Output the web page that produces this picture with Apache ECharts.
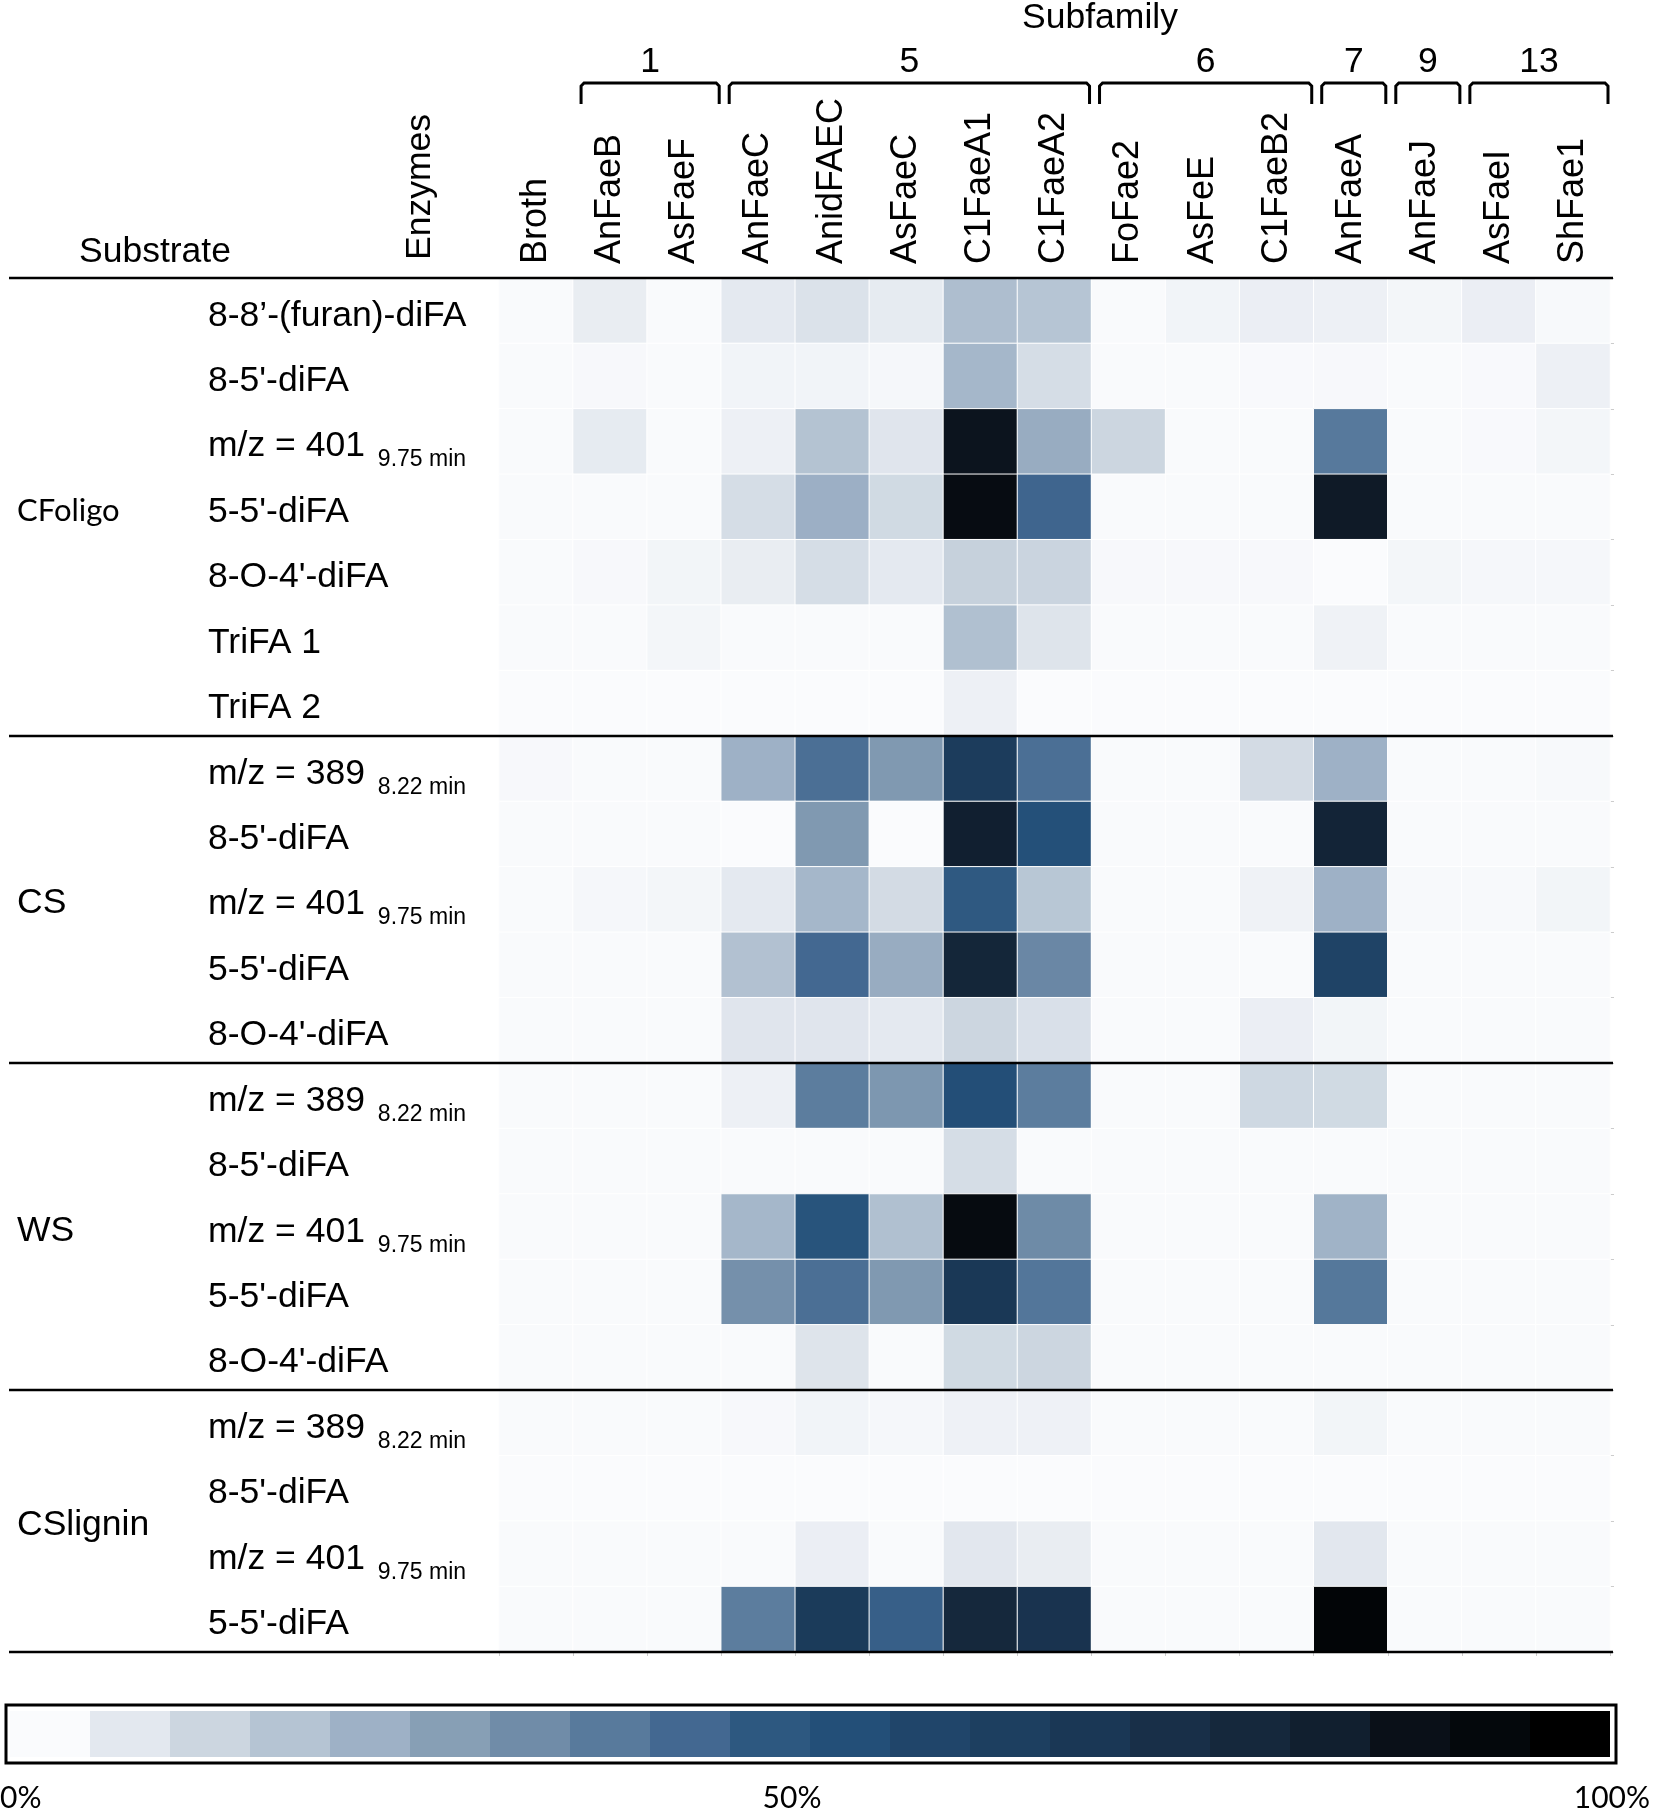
<!DOCTYPE html>
<html>
<head>
<meta charset="utf-8">
<title>Subfamily heatmap</title>
<script src="https://cdn.jsdelivr.net/npm/echarts@6/dist/echarts.min.js"></script>
<style>
  html, body { margin: 0; padding: 0; background: #fff; }
  #chart { width: 1655px; height: 1815px; }
</style>
</head>
<body>
<div id="chart"></div>
<script>
// --- Data ---
var enzymes = ['Broth', 'AnFaeB', 'AsFaeF', 'AnFaeC', 'AnidFAEC', 'AsFaeC', 'C1FaeA1', 'C1FaeA2',
  'FoFae2', 'AsFeE', 'C1FaeB2', 'AnFaeA', 'AnFaeJ', 'AsFaeI', 'ShFae1'];

var subfamilies = ['1', '5', '6', '7', '9', '13'];
var subfamilySpans = [[1, 2], [3, 7], [8, 10], [11, 11], [12, 12], [13, 14]];

var substrates = ['CFoligo', 'CS', 'WS', 'CSlignin'];
var compounds = [
  ['8-8’-(furan)-diFA', "8-5'-diFA", 'm/z = 401', "5-5'-diFA", "8-O-4'-diFA", 'TriFA 1', 'TriFA 2'],
  ['m/z = 389', "8-5'-diFA", 'm/z = 401', "5-5'-diFA", "8-O-4'-diFA"],
  ['m/z = 389', "8-5'-diFA", 'm/z = 401', "5-5'-diFA", "8-O-4'-diFA"],
  ['m/z = 389', "8-5'-diFA", 'm/z = 401', "5-5'-diFA"]
];
var retentionTimes = { 'm/z = 389': '8.22 min', 'm/z = 401': '9.75 min' };

// values in % (one row per compound, one column per enzyme)
var cfoligo = [
  [0.2, 4, 0.2, 5, 7, 4.5, 17.5, 15.5, 0.2, 2, 3.5, 3, 1.5, 3.5, 0.6],
  [0.2, 0.8, 0.2, 2, 2, 1.2, 19.5, 8.5, 0.2, 0.2, 0.5, 0.8, 0.2, 0.5, 3],
  [0.2, 4.5, 0.2, 3, 16, 6, 88, 22.5, 10.5, 0.2, 0.2, 37, 0.2, 0.5, 1.5],
  [0.2, 0.2, 0.2, 8.5, 21.5, 9.5, 92, 43, 0.2, 0.2, 0.2, 86, 0.2, 0.2, 0.2],
  [0.2, 0.8, 1.8, 4, 8.5, 5, 12, 11, 0.8, 0.8, 0.8, 0.1, 1.5, 1.2, 1.2],
  [0.2, 0.2, 1.5, 0.2, 0.2, 0.2, 17, 6.5, 0.2, 0.2, 0.2, 2.5, 0.2, 0.2, 0.2],
  [0.1, 0.1, 0.1, 0.1, 0.1, 0.1, 3, 0.1, 0.1, 0.1, 0.1, 0.1, 0.1, 0.1, 0.1]
];
var cs = [
  [0.8, 0.2, 0.2, 21, 40, 28, 65, 40, 0.2, 0.2, 9, 21, 0.2, 0.2, 0.6],
  [0.2, 0.2, 0.2, 0.1, 28, 0.1, 84, 52, 0.2, 0.2, 0.2, 81, 0.2, 0.2, 0.2],
  [0.2, 1.2, 1.5, 5, 19.5, 9, 47, 15, 0.2, 0.2, 2.5, 21, 0.6, 0.6, 1.8],
  [0.2, 0.2, 0.2, 16.5, 42, 22.5, 80, 33, 0.2, 0.2, 0.2, 60, 0.2, 0.2, 0.2],
  [0.2, 0.2, 0.2, 6, 6, 5, 10.5, 7.5, 0.2, 0.2, 3.5, 1.8, 0.2, 0.2, 0.2]
];
var ws = [
  [0.2, 0.2, 0.2, 3, 36, 28.5, 53, 36, 0.2, 0.2, 10, 9.5, 0.2, 0.2, 0.2],
  [0.2, 0.2, 0.2, 0.2, 0.2, 0.2, 8.5, 0.2, 0.2, 0.2, 0.2, 0.2, 0.2, 0.2, 0.2],
  [0.2, 0.2, 0.2, 19.5, 50, 17, 93, 32, 0.2, 0.2, 0.2, 20.5, 0.2, 0.2, 0.2],
  [0.2, 0.2, 0.2, 30.5, 40, 28, 68, 38, 0.2, 0.2, 0.2, 37.5, 0.2, 0.2, 0.2],
  [0.2, 0.2, 0.2, 0.2, 6.5, 0.2, 9.5, 10.5, 0.2, 0.2, 0.2, 0.2, 0.2, 0.2, 0.2]
];
var cslignin = [
  [0.2, 0.2, 0.2, 0.8, 2, 1.2, 2.8, 2.8, 0.2, 0.2, 0.2, 1.8, 0.2, 0.2, 0.2],
  [0.1, 0.1, 0.1, 0.1, 0.1, 0.1, 0.1, 0.1, 0.1, 0.1, 0.1, 0.1, 0.1, 0.1, 0.1],
  [0.2, 0.2, 0.2, 0.2, 3.5, 0.2, 5.5, 4, 0.2, 0.2, 0.2, 5.5, 0.2, 0.2, 0.2],
  [0.2, 0.2, 0.2, 36, 66, 45, 79, 71, 0.2, 0.2, 0.2, 97, 0.2, 0.2, 0.2]
];

var scaleLabels = ['0%', '50%', '100%'];

// 20-step colour scale, 0% -> 100%
var rampColors = ['#fafbfd', '#e3e8ef', '#ccd6e0', '#b5c4d3', '#9eb1c6', '#879fb5', '#708ca8',
  '#587a9c', '#436891', '#2d5880', '#234f78', '#20456a', '#1d3f60', '#1a3755', '#182f48',
  '#15283c', '#111f2f', '#0a1018', '#04080c', '#000000'];

(function () {
  'use strict';

  var FONT = "'Liberation Sans', Arial, sans-serif";
  var FONT_ALT = "Lato, 'Open Sans', sans-serif";

  // --- Build rows and cells ---
  var groupValues = [cfoligo, cs, ws, cslignin];
  var rowKeys = [];
  var rowNames = [];
  var groupSpans = [];
  substrates.forEach(function (s, g) {
    var start = rowKeys.length;
    compounds[g].forEach(function (c, i) {
      rowKeys.push(s + ':' + i);
      rowNames.push(c);
    });
    groupSpans.push([start, rowKeys.length - 1]);
  });

  var cells = [];
  groupValues.forEach(function (rows, g) {
    rows.forEach(function (vals, i) {
      var r = groupSpans[g][0] + i;
      vals.forEach(function (v, c) {
        cells.push([c, r, v]);
      });
    });
  });

  var chart = echarts.init(document.getElementById('chart'), null, { renderer: 'canvas' });

  var faintTick = { show: true, length: 4, lineStyle: { color: '#cccccc', width: 1 } };

  var option = {
    animation: false,
    grid: { left: 499, right: 45, top: 278, bottom: 163 },
    xAxis: [{
      type: 'category',
      data: enzymes,
      position: 'top',
      axisLine: { show: false },
      axisTick: { show: false },
      splitLine: { show: false },
      axisLabel: { rotate: -90, margin: 14, interval: 0, fontSize: 36, color: '#000', fontFamily: FONT }
    }, {
      type: 'category',
      data: enzymes,
      position: 'bottom',
      axisLine: { show: false },
      axisTick: faintTick,
      axisLabel: { show: false }
    }],
    yAxis: [{
      type: 'category',
      data: rowKeys,
      inverse: true,
      axisLine: { show: false },
      axisTick: { show: false },
      splitLine: { show: false },
      axisLabel: {
        align: 'left',
        margin: 291,
        interval: 0,
        padding: [10, 0, 0, 0],
        formatter: function (value, index) {
          var name = rowNames[index];
          var t = retentionTimes[name];
          return '{main|' + name + '}{sub|' + (t ? t : ' ') + '}';
        },
        rich: {
          main: { fontSize: 35.5, fontFamily: FONT, color: '#000', lineHeight: 50 },
          sub: { fontSize: 23, fontFamily: FONT, color: '#000', lineHeight: 50,
            verticalAlign: 'bottom', padding: [0, 0, 0, 13] }
        }
      }
    }, {
      type: 'category',
      data: rowKeys,
      inverse: true,
      position: 'right',
      axisLine: { show: false },
      axisTick: faintTick,
      axisLabel: { show: false }
    }],
    visualMap: [{
      type: 'continuous',
      show: false,
      seriesIndex: 0,
      min: 0,
      max: 100,
      inRange: { color: rampColors }
    }, {
      type: 'piecewise',
      seriesIndex: 1,
      orient: 'horizontal',
      left: 10,
      top: 1711,
      padding: 0,
      itemWidth: 80,
      itemHeight: 46,
      itemGap: 0,
      itemSymbol: 'rect',
      showLabel: false,
      selectedMode: false,
      hoverLink: false,
      pieces: rampColors.map(function (c, i) {
        return i === rampColors.length - 1 ? { gte: i * 5, lte: 100, color: c } : { gte: i * 5, lt: (i + 1) * 5, color: c };
      })
    }],
    series: [{
      type: 'heatmap',
      data: cells,
      itemStyle: { borderColor: '#fff', borderWidth: 1 },
      emphasis: { disabled: true }
    }, {
      // carries the discrete colour bar only
      type: 'heatmap',
      data: []
    }]
  };

  chart.setOption(option);

  // --- Annotations positioned from the axes ---
  function px(c, r) {
    return chart.convertToPixel({ gridIndex: 0 }, [c, r]);
  }
  var p00 = px(0, 0);
  var colStep = px(1, 0)[0] - p00[0];
  var rowStep = px(0, 1)[1] - p00[1];
  function colEdge(b) { return p00[0] + (b - 0.5) * colStep; }
  function rowEdge(b) { return p00[1] + (b - 0.5) * rowStep; }
  var gridRight = colEdge(enzymes.length);

  var txt = function (text, x, y, font, align, vAlign, extra) {
    var el = {
      type: 'text', x: x, y: y, silent: true, z: 100,
      style: { text: text, font: font, fill: '#000',
        align: align, textAlign: align, verticalAlign: vAlign, textVerticalAlign: vAlign }
    };
    if (extra) Object.assign(el, extra);
    return el;
  };

  var graphics = [];

  // horizontal separator lines: header, group boundaries, bottom
  var bounds = [0];
  groupSpans.forEach(function (s) { bounds.push(s[1] + 1); });
  bounds.forEach(function (b) {
    var y = Math.round(rowEdge(b));
    graphics.push({
      type: 'line', silent: true, z: 100,
      shape: { x1: 9, y1: y, x2: gridRight + 3, y2: y },
      style: { stroke: '#000', lineWidth: 2.5 }
    });
  });

  // substrate group labels
  groupSpans.forEach(function (s, g) {
    var yc = (rowEdge(s[0]) + rowEdge(s[1] + 1)) / 2 + 4;
    var font = g === 0 ? '31px ' + FONT_ALT : '35.5px ' + FONT;
    graphics.push(txt(substrates[g], 17, yc, font, 'left', 'middle'));
  });

  // header texts
  graphics.push(txt('Substrate', 79, 252, '35.5px ' + FONT, 'left', 'middle'));
  graphics.push(txt('Enzymes', 420, 260, '35.5px ' + FONT, 'left', 'middle', { rotation: Math.PI / 2 }));
  graphics.push(txt('Subfamily', 1100, 18, '35.5px ' + FONT, 'center', 'middle'));

  // subfamily brackets
  subfamilySpans.forEach(function (span, k) {
    var x1 = colEdge(span[0]) + 8;
    var x2 = colEdge(span[1] + 1) - 2;
    graphics.push({
      type: 'polyline', silent: true, z: 100,
      shape: { points: [[x1, 104], [x1, 86], [x1 + 3, 83], [x2 - 3, 83], [x2, 86], [x2, 104]] },
      style: { stroke: '#000', lineWidth: 3, fill: null }
    });
    graphics.push(txt(subfamilies[k], (x1 + x2) / 2, 62, '35.5px ' + FONT, 'center', 'middle'));
  });

  // colour bar frame and labels
  graphics.push({
    type: 'rect', silent: true, z: 100,
    shape: { x: 6, y: 1705, width: 1610, height: 58 },
    style: { stroke: '#000', lineWidth: 3, fill: null }
  });
  graphics.push(txt(scaleLabels[0], 0, 1798, '30px ' + FONT_ALT, 'left', 'middle'));
  graphics.push(txt(scaleLabels[1], 792, 1798, '30px ' + FONT_ALT, 'center', 'middle'));
  graphics.push(txt(scaleLabels[2], 1650, 1798, '30px ' + FONT_ALT, 'right', 'middle'));

  chart.setOption({ graphic: { elements: graphics } });
})();
</script>
</body>
</html>
